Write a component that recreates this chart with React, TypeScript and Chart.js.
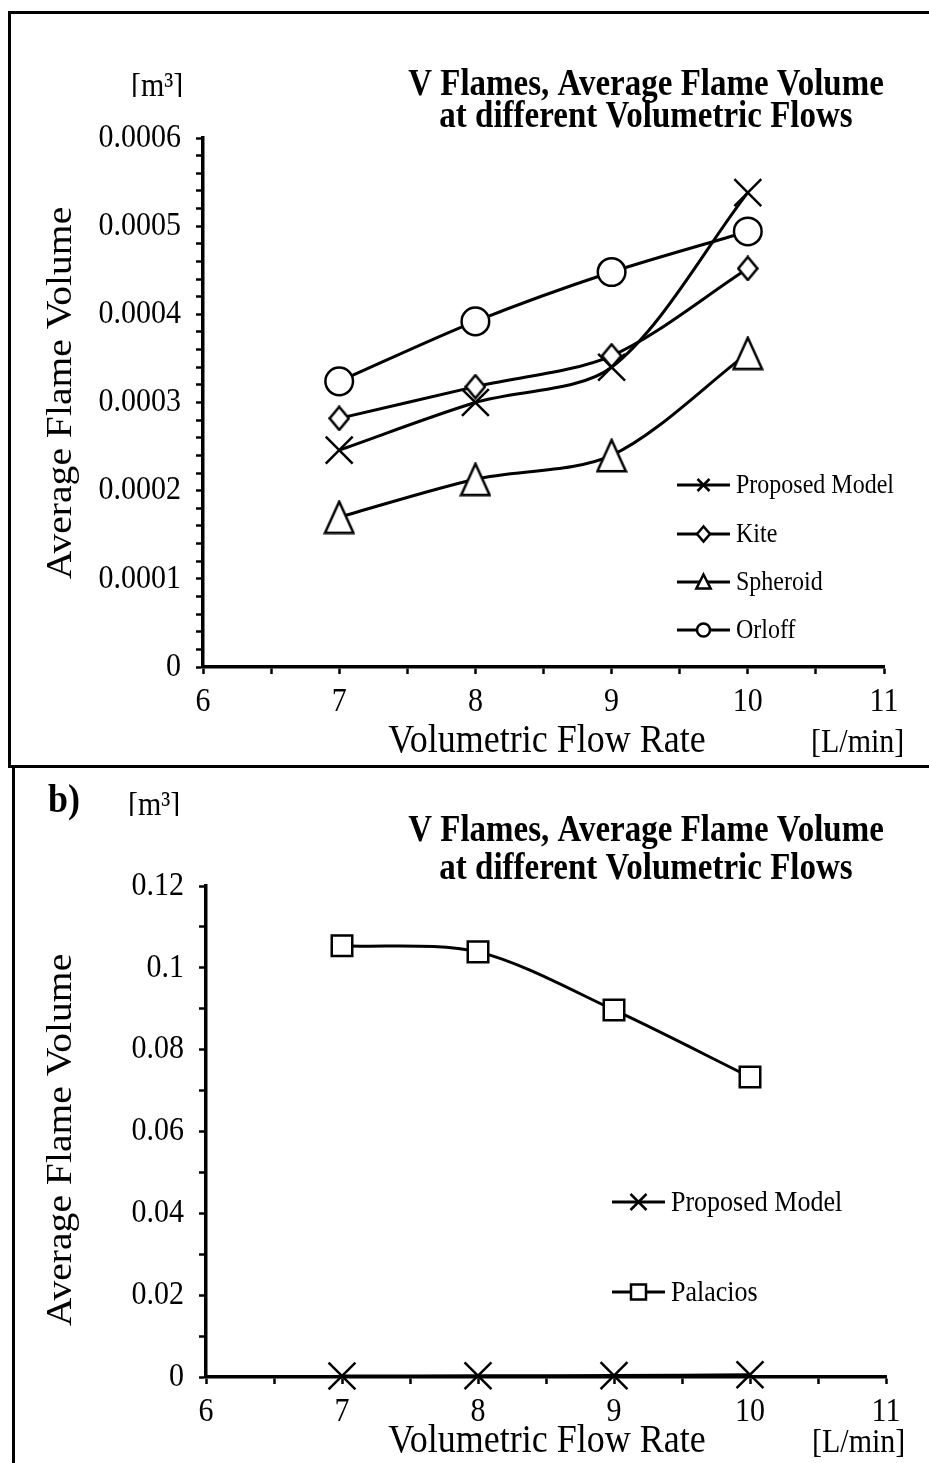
import React, { useEffect, useRef } from 'react';
import { Chart, registerables } from 'chart.js';

Chart.register(...registerables);

// ---------- data ----------
const flowRates = [7, 8, 9, 10];
const proposedModel = [0.000246, 0.0003, 0.00034, 0.000538];
const kite = [0.000282, 0.000318, 0.000353, 0.000452];
const spheroid = [0.00017, 0.000213, 0.00024, 0.000356];
const orloff = [0.000324, 0.000392, 0.000448, 0.000494];
const palacios = [0.1054, 0.1039, 0.0897, 0.0733];

const xTickLabels = ['6', '7', '8', '9', '10', '11'];
const yTickLabelsA = ['0', '0.0001', '0.0002', '0.0003', '0.0004', '0.0005', '0.0006'];
const yTickLabelsB = ['0', '0.02', '0.04', '0.06', '0.08', '0.1', '0.12'];

const titleLine1 = 'V Flames, Average Flame Volume';
const titleLine2 = 'at different Volumetric Flows';
const yTitle = 'Average Flame Volume';
const xTitle = 'Volumetric Flow Rate';
const xUnit = '[L/min]';
const yUnit = '[m³]';
const panelLabel = 'b)';

// ---------- helpers ----------
const SERIF = '"Liberation Serif", "Times New Roman", Times, serif';
const STRETCH = 1.12;

function buildTicks(labels: string[], sub: number) {
  const vals = labels.map(Number);
  const out: { value: number }[] = [];
  for (let i = 0; i < vals.length; i++) {
    out.push({ value: vals[i] });
    if (i < vals.length - 1) {
      for (let j = 1; j < sub; j++) out.push({ value: vals[i] + ((vals[i + 1] - vals[i]) * j) / sub });
    }
  }
  return out;
}

function axis(labels: string[], sub: number, pos: 'left' | 'bottom', size: number) {
  return {
    type: 'linear' as const,
    position: pos,
    min: Number(labels[0]),
    max: Number(labels[labels.length - 1]),
    afterBuildTicks: (s: any) => {
      s.ticks = buildTicks(labels, sub);
    },
    afterFit: (s: any) => {
      if (pos === 'left') s.width = size;
      else s.height = size;
    },
    ticks: { display: false, autoSkip: false },
    grid: {
      display: true,
      drawOnChartArea: false,
      drawTicks: true,
      tickLength: 7,
      tickWidth: 2.5,
      tickColor: '#000',
    },
    border: { display: true, color: '#000', width: 3.5 },
  };
}

function makeShape(kind: 'diamond' | 'triangle', w: number, h: number) {
  const c = document.createElement('canvas');
  c.width = w;
  c.height = h;
  const ctx = c.getContext('2d') as CanvasRenderingContext2D;
  ctx.lineWidth = 2.5;
  ctx.strokeStyle = '#000';
  ctx.fillStyle = '#fff';
  ctx.lineJoin = 'miter';
  ctx.beginPath();
  if (kind === 'diamond') {
    ctx.moveTo(w / 2, 1.5);
    ctx.lineTo(w - 1.5, h / 2);
    ctx.lineTo(w / 2, h - 1.5);
    ctx.lineTo(1.5, h / 2);
  } else {
    ctx.moveTo(w / 2, 2);
    ctx.lineTo(w - 1.8, h - 1.8);
    ctx.lineTo(1.8, h - 1.8);
  }
  ctx.closePath();
  ctx.fill();
  ctx.stroke();
  return c;
}

function series(label: string, values: number[], style: any, radius: number) {
  return {
    label,
    data: flowRates.map((x, i) => ({ x, y: values[i] })),
    borderColor: '#000',
    backgroundColor: '#fff',
    borderWidth: 3,
    pointStyle: style,
    pointRadius: radius,
    pointHoverRadius: radius,
    pointBorderWidth: 2.5,
    pointBorderColor: '#000',
    pointBackgroundColor: '#fff',
    tension: 0.3,
    fill: false,
    clip: false,
  };
}

function drawMarker(ctx: CanvasRenderingContext2D, style: string, x: number, y: number, r: number) {
  ctx.save();
  ctx.lineWidth = 2.5;
  ctx.strokeStyle = '#000';
  ctx.fillStyle = '#fff';
  ctx.beginPath();
  switch (style) {
    case 'cross':
      ctx.moveTo(x - r, y - r);
      ctx.lineTo(x + r, y + r);
      ctx.moveTo(x - r, y + r);
      ctx.lineTo(x + r, y - r);
      ctx.stroke();
      break;
    case 'diamond':
      ctx.moveTo(x - r, y);
      ctx.lineTo(x, y - r * 1.15);
      ctx.lineTo(x + r, y);
      ctx.lineTo(x, y + r * 1.15);
      ctx.closePath();
      ctx.fill();
      ctx.stroke();
      break;
    case 'triangle':
      ctx.moveTo(x, y - r);
      ctx.lineTo(x + r * 0.95, y + r * 0.85);
      ctx.lineTo(x - r * 0.95, y + r * 0.85);
      ctx.closePath();
      ctx.fill();
      ctx.stroke();
      break;
    case 'square':
      ctx.rect(x - r, y - r, 2 * r, 2 * r);
      ctx.fill();
      ctx.stroke();
      break;
    default:
      ctx.arc(x, y, r, 0, Math.PI * 2);
      ctx.fill();
      ctx.stroke();
  }
  ctx.restore();
}

const textPlugin = {
  id: 'texts',
  afterDraw(chart: any, _args: any, opts: any) {
    const ctx: CanvasRenderingContext2D = chart.ctx;
    for (const t of opts.items || []) {
      ctx.save();
      ctx.font = t.font;
      ctx.fillStyle = '#000';
      ctx.textAlign = t.align || 'center';
      ctx.textBaseline = t.baseline || 'alphabetic';
      ctx.translate(t.x, t.y);
      if (t.rotate) ctx.rotate(t.rotate);
      ctx.scale(t.sx || 1, t.sy || 1);
      if (t.clip) {
        ctx.beginPath();
        ctx.rect(-10, -200, 400, 201);
        ctx.clip();
      }
      ctx.fillText(t.text, 0, 0);
      ctx.restore();
    }
  },
};

const tickLabelPlugin = {
  id: 'tickLabels',
  afterDraw(chart: any, _args: any, opts: any) {
    const ctx: CanvasRenderingContext2D = chart.ctx;
    const xs = chart.scales.x;
    const ys = chart.scales.y;
    const area = chart.chartArea;
    ctx.save();
    ctx.fillStyle = '#000';
    ctx.font = opts.font;
    ctx.textBaseline = 'middle';
    ctx.textAlign = 'right';
    for (const l of opts.yLabels) {
      ctx.save();
      ctx.translate(area.left - opts.yGap, ys.getPixelForValue(Number(l)));
      ctx.scale(1, STRETCH);
      ctx.fillText(l, 0, 0);
      ctx.restore();
    }
    ctx.textAlign = 'center';
    for (const l of opts.xLabels) {
      ctx.save();
      ctx.translate(xs.getPixelForValue(Number(l)), area.bottom + opts.xGap);
      ctx.scale(1, STRETCH);
      ctx.fillText(l, 0, 0);
      ctx.restore();
    }
    ctx.restore();
  },
};

const legendPlugin = {
  id: 'inlineLegend',
  afterDraw(chart: any, _args: any, opts: any) {
    const ctx: CanvasRenderingContext2D = chart.ctx;
    for (const it of opts.items || []) {
      const ds = chart.data.datasets[it.index];
      ctx.save();
      ctx.strokeStyle = '#000';
      ctx.lineWidth = 3;
      ctx.beginPath();
      ctx.moveTo(opts.x1, it.y);
      ctx.lineTo(opts.x2, it.y);
      ctx.stroke();
      drawMarker(ctx, it.marker, (opts.x1 + opts.x2) / 2, it.y, it.r);
      ctx.font = opts.font;
      ctx.fillStyle = '#000';
      ctx.textAlign = 'left';
      ctx.textBaseline = 'middle';
      ctx.translate(opts.x2 + opts.gap, it.y + 1);
      ctx.scale(1, STRETCH);
      ctx.fillText(ds.label, 0, 0);
      ctx.restore();
    }
  },
};

function makeConfig(opts: {
  datasets: any[];
  yLabels: string[];
  ySub: number;
  yWidth: number;
  xHeight: number;
  padding: any;
  texts: any[];
  legend: any;
}) {
  return {
    type: 'line' as const,
    data: { datasets: opts.datasets },
    plugins: [textPlugin, tickLabelPlugin, legendPlugin],
    options: {
      responsive: false,
      animation: false as const,
      events: [],
      layout: { padding: opts.padding },
      scales: {
        x: axis(xTickLabels, 2, 'bottom', opts.xHeight),
        y: axis(opts.yLabels, opts.ySub, 'left', opts.yWidth),
      },
      plugins: {
        legend: { display: false },
        tooltip: { enabled: false },
        title: { display: false },
        texts: { items: opts.texts },
        tickLabels: {
          font: `30px ${SERIF}`,
          yLabels: opts.yLabels,
          xLabels: xTickLabels,
          yGap: 22,
          xGap: 35,
        },
        inlineLegend: opts.legend,
      },
    },
  };
}

export default function App() {
  const ref1 = useRef<HTMLCanvasElement>(null);
  const ref2 = useRef<HTMLCanvasElement>(null);

  useEffect(() => {
    const diamond = makeShape('diamond', 22, 26);
    const triangle = makeShape('triangle', 32, 35);

    const titleFont = `bold 33px ${SERIF}`;
    const cfg1 = makeConfig({
      datasets: [
        series('Proposed Model', proposedModel, 'crossRot', 19),
        series('Kite', kite, diamond, 12),
        series('Spheroid', spheroid, triangle, 16),
        series('Orloff', orloff, 'circle', 13.8),
      ],
      yLabels: yTickLabelsA,
      ySub: 5,
      yWidth: 203,
      xHeight: 101,
      padding: { left: 0, top: 138, right: 45, bottom: 0 },
      texts: [
        { text: yUnit, x: 131, y: 96, font: `30px ${SERIF}`, align: 'left', clip: true, sy: STRETCH },
        { text: titleLine1, x: 646, y: 95, font: titleFont, sy: STRETCH },
        { text: titleLine2, x: 646, y: 127, font: titleFont, sy: STRETCH },
        { text: xTitle, x: 547, y: 752, font: `36px ${SERIF}`, sy: STRETCH },
        { text: xUnit, x: 811, y: 752, font: `30px ${SERIF}`, align: 'left', sy: STRETCH },
        {
          text: yTitle,
          x: 62,
          y: 393,
          font: `36px ${SERIF}`,
          baseline: 'middle',
          rotate: -Math.PI / 2,
          sx: 1.1,
        },
      ],
      legend: {
        x1: 677,
        x2: 730,
        gap: 6,
        font: `24px ${SERIF}`,
        items: [
          { index: 0, y: 485, r: 6, marker: 'cross' },
          { index: 1, y: 534, r: 6.5, marker: 'diamond' },
          { index: 2, y: 582, r: 7.5, marker: 'triangle' },
          { index: 3, y: 630, r: 6.5, marker: 'circle' },
        ],
      },
    });

    const cfg2 = makeConfig({
      datasets: [
        series('Proposed Model', proposedModel, 'crossRot', 19),
        series('Palacios', palacios, 'rect', 14.5),
      ],
      yLabels: yTickLabelsB,
      ySub: 2,
      yWidth: 206,
      xHeight: 86,
      padding: { left: 0, top: 118, right: 43, bottom: 0 },
      texts: [
        { text: panelLabel, x: 48, y: 44, font: `bold 36px ${SERIF}`, align: 'left', sy: STRETCH },
        { text: yUnit, x: 128, y: 47, font: `30px ${SERIF}`, align: 'left', clip: true, sy: STRETCH },
        { text: titleLine1, x: 646, y: 73, font: titleFont, sy: STRETCH },
        { text: titleLine2, x: 646, y: 111, font: titleFont, sy: STRETCH },
        { text: xTitle, x: 547, y: 684, font: `36px ${SERIF}`, sy: STRETCH },
        { text: xUnit, x: 812, y: 684, font: `30px ${SERIF}`, align: 'left', sy: STRETCH },
        {
          text: yTitle,
          x: 62,
          y: 372,
          font: `36px ${SERIF}`,
          baseline: 'middle',
          rotate: -Math.PI / 2,
          sx: 1.1,
        },
      ],
      legend: {
        x1: 612,
        x2: 665,
        gap: 6,
        font: `26px ${SERIF}`,
        items: [
          { index: 0, y: 434, r: 8, marker: 'cross' },
          { index: 1, y: 524, r: 7.5, marker: 'square' },
        ],
      },
    });

    const c1 = new Chart(ref1.current as HTMLCanvasElement, cfg1 as any);
    const c2 = new Chart(ref2.current as HTMLCanvasElement, cfg2 as any);
    return () => {
      c1.destroy();
      c2.destroy();
    };
  }, []);

  return (
    <div
      style={{
        position: 'absolute',
        left: 0,
        top: 0,
        width: 929,
        height: 1463,
        overflow: 'hidden',
        background: '#fff',
      }}
    >
      <canvas
        ref={ref1}
        width={929}
        height={768}
        style={{ position: 'absolute', left: 0, top: 0, width: 929, height: 768 }}
      />
      <canvas
        ref={ref2}
        width={929}
        height={695}
        style={{ position: 'absolute', left: 0, top: 768, width: 929, height: 695 }}
      />
      <div
        style={{
          position: 'absolute',
          left: 8,
          top: 11,
          width: 940,
          height: 757,
          border: '3px solid #000',
          boxSizing: 'border-box',
          pointerEvents: 'none',
        }}
      />
      <div
        style={{
          position: 'absolute',
          left: 12,
          top: 767,
          width: 3,
          height: 700,
          background: '#000',
          pointerEvents: 'none',
        }}
      />
    </div>
  );
}
